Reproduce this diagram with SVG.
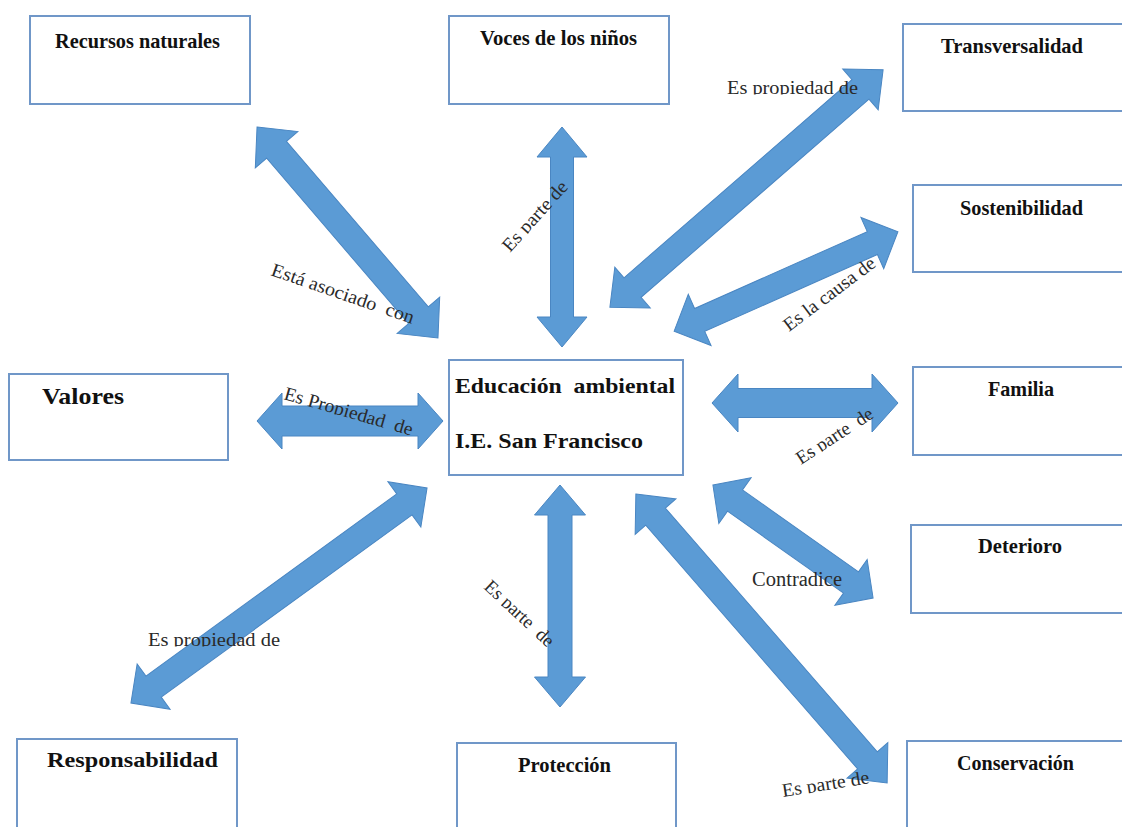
<svg xmlns="http://www.w3.org/2000/svg" width="1122" height="827" viewBox="0 0 1122 827">
<style>
.box{fill:#ffffff;stroke:#7097c8;stroke-width:2}
.t{font-family:"Liberation Serif","Times New Roman",serif;font-weight:bold;fill:#111;white-space:pre}
.arr{fill:#5b9bd5;stroke:#4a86c2;stroke-width:1}
.lbl{font-family:"Liberation Serif","Times New Roman",serif;font-size:19px;fill:#2a2a2a;white-space:pre}
</style>
<defs>
<clipPath id="cut" clipPathUnits="userSpaceOnUse"><rect x="-10" y="-40" width="400" height="40.5"/></clipPath>
</defs>
<rect width="1122" height="827" fill="#ffffff"/>

<g id="connectors">
<path class="arr" transform="translate(347.5,232.5) rotate(49.4)" d="M-139 0 L-109 -28 L-109 -13 L109 -13 L109 -28 L139 0 L109 28 L109 13 L-109 13 L-109 28Z"/>
<path class="arr" transform="translate(562,237) rotate(90)" d="M-110 0 L-80 -25 L-80 -11.5 L80 -11.5 L80 -25 L110 0 L80 25 L80 11.5 L-80 11.5 L-80 25Z"/>
<path class="arr" transform="translate(746.5,188.5) rotate(-41)" d="M-181 0 L-151 -27 L-151 -13 L151 -13 L151 -27 L181 0 L151 27 L151 13 L-151 13 L-151 27Z"/>
<path class="arr" transform="translate(786,281.5) rotate(-24)" d="M-122.5 0 L-94.5 -28 L-94.5 -12.5 L94.5 -12.5 L94.5 -28 L122.5 0 L94.5 28 L94.5 12.5 L-94.5 12.5 L-94.5 28Z"/>
<path class="arr" transform="translate(350,421)" d="M-93 0 L-68 -28 L-68 -15 L68 -15 L68 -28 L93 0 L68 28 L68 15 L-68 15 L-68 28Z"/>
<path class="arr" transform="translate(805,403)" d="M-93 0 L-67 -29 L-67 -14.5 L67 -14.5 L67 -29 L93 0 L67 29 L67 14.5 L-67 14.5 L-67 29Z"/>
<path class="arr" transform="translate(793,541.5) rotate(35.2)" d="M-98 0 L-71 -28 L-71 -13 L71 -13 L71 -28 L98 0 L71 28 L71 13 L-71 13 L-71 28Z"/>
<path class="arr" transform="translate(279,595.5) rotate(-36)" d="M-183 0 L-155 -28 L-155 -13 L155 -13 L155 -28 L183 0 L155 28 L155 13 L-155 13 L-155 28Z"/>
<path class="arr" transform="translate(560,596) rotate(90)" d="M-111 0 L-81 -25.5 L-81 -12 L81 -12 L81 -25.5 L111 0 L81 25.5 L81 12 L-81 12 L-81 25.5Z"/>
<path class="arr" transform="translate(761.5,638.5) rotate(49)" d="M-191.5 0 L-161.5 -27 L-161.5 -13 L161.5 -13 L161.5 -27 L191.5 0 L161.5 27 L161.5 13 L-161.5 13 L-161.5 27Z"/>

<g class="lbl">
<g transform="translate(270,275) rotate(19)"><text xml:space="preserve" x="0" y="0" textLength="150" lengthAdjust="spacingAndGlyphs">Está asociado  con</text></g>
<g transform="translate(510,253) rotate(-48)"><text x="0" y="0" textLength="88" lengthAdjust="spacingAndGlyphs" clip-path="url(#cut)">Es parte de</text></g>
<g transform="translate(727,94)"><text x="0" y="0" textLength="131" lengthAdjust="spacingAndGlyphs" clip-path="url(#cut)">Es propiedad de</text></g>
<g transform="translate(789,332) rotate(-37)"><text x="0" y="0" textLength="110" lengthAdjust="spacingAndGlyphs">Es la causa de</text></g>
<g transform="translate(283,399) rotate(16)"><text xml:space="preserve" x="0" y="0" textLength="133" lengthAdjust="spacingAndGlyphs" clip-path="url(#cut)">Es Propiedad  de</text></g>
<g transform="translate(801,465) rotate(-33)"><text xml:space="preserve" x="0" y="0" textLength="88" lengthAdjust="spacingAndGlyphs" clip-path="url(#cut)">Es parte  de</text></g>
<g transform="translate(752,586)"><text x="0" y="0" font-size="20" textLength="90" lengthAdjust="spacingAndGlyphs">Contradice</text></g>
<g transform="translate(148,646)"><text x="0" y="0" textLength="132" lengthAdjust="spacingAndGlyphs" clip-path="url(#cut)">Es propiedad de</text></g>
<g transform="translate(483,588) rotate(43)"><text xml:space="preserve" x="0" y="0" textLength="88" lengthAdjust="spacingAndGlyphs" clip-path="url(#cut)">Es parte  de</text></g>
<g transform="translate(783,797) rotate(-9)"><text x="0" y="0" textLength="88" lengthAdjust="spacingAndGlyphs" clip-path="url(#cut)">Es parte de</text></g>
</g>
</g>

<g id="n-recursos"><rect class="box" x="30" y="16" width="220" height="88"/><text class="t" x="55" y="48" font-size="21" textLength="165" lengthAdjust="spacingAndGlyphs">Recursos naturales</text></g>
<g id="n-voces"><rect class="box" x="449" y="16" width="220" height="88"/><text class="t" x="480" y="45" font-size="21" textLength="157" lengthAdjust="spacingAndGlyphs">Voces de los niños</text></g>
<g id="n-transversalidad"><rect class="box" x="903" y="24" width="230" height="87"/><text class="t" x="941" y="53" font-size="21" textLength="142" lengthAdjust="spacingAndGlyphs">Transversalidad</text></g>
<g id="n-sostenibilidad"><rect class="box" x="913" y="185" width="220" height="87"/><text class="t" x="960" y="215" font-size="21" textLength="123" lengthAdjust="spacingAndGlyphs">Sostenibilidad</text></g>
<g id="n-valores"><rect class="box" x="9" y="374" width="219" height="86"/><text class="t" x="42" y="404" font-size="24" textLength="82" lengthAdjust="spacingAndGlyphs">Valores</text></g>
<g id="n-educacion"><rect class="box" x="449" y="360" width="234" height="115"/><text class="t" xml:space="preserve" x="455" y="393" font-size="22" textLength="220" lengthAdjust="spacingAndGlyphs">Educación  ambiental</text><text class="t" x="455" y="448" font-size="22" textLength="188" lengthAdjust="spacingAndGlyphs">I.E. San Francisco</text></g>
<g id="n-familia"><rect class="box" x="913" y="367" width="220" height="88"/><text class="t" x="988" y="396" font-size="21" textLength="66" lengthAdjust="spacingAndGlyphs">Familia</text></g>
<g id="n-deterioro"><rect class="box" x="911" y="525" width="220" height="88"/><text class="t" x="978" y="553" font-size="21" textLength="84" lengthAdjust="spacingAndGlyphs">Deterioro</text></g>
<g id="n-responsabilidad"><rect class="box" x="17" y="739" width="220" height="100"/><text class="t" x="47" y="767" font-size="22" textLength="171" lengthAdjust="spacingAndGlyphs">Responsabilidad</text></g>
<g id="n-proteccion"><rect class="box" x="457" y="743" width="219" height="100"/><text class="t" x="518" y="772" font-size="21" textLength="93" lengthAdjust="spacingAndGlyphs">Protección</text></g>
<g id="n-conservacion"><rect class="box" x="907" y="741" width="230" height="100"/><text class="t" x="957" y="770" font-size="21" textLength="117" lengthAdjust="spacingAndGlyphs">Conservación</text></g>
</svg>
